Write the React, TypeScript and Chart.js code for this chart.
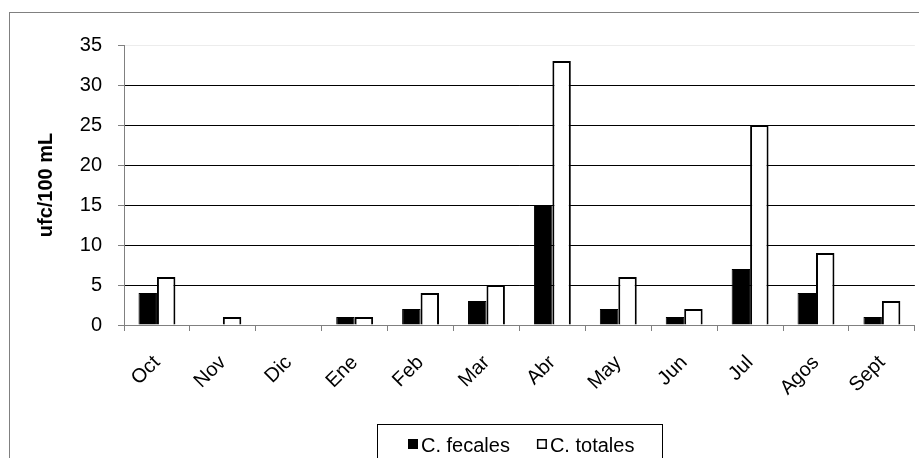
import { useEffect, useRef } from 'react';
import { Chart, registerables } from 'chart.js';

Chart.register(...registerables);

const categories = ['Oct', 'Nov', 'Dic', 'Ene', 'Feb', 'Mar', 'Abr', 'May', 'Jun', 'Jul', 'Agos', 'Sept'];
const fecales = [4, 0, 0, 1, 2, 3, 15, 2, 1, 7, 4, 1];
const totales = [6, 1, 0, 1, 4, 5, 33, 6, 2, 25, 9, 3];
const yTicks = [0, 5, 10, 15, 20, 25, 30, 35];
const seriesNames = ['C. fecales', 'C. totales'];
const yTitle = 'ufc/100 mL';

const FONT = '"Liberation Sans", Arial, sans-serif';

const framePlugin = {
  id: 'frame',
  afterDraw(chart: any) {
    const { ctx } = chart;
    ctx.save();
    // outer chart border
    ctx.strokeStyle = '#808080';
    ctx.lineWidth = 1;
    ctx.strokeRect(9.5, 12.5, 1100, 600);
    // legend box
    ctx.strokeStyle = '#000';
    ctx.strokeRect(377.5, 424.5, 285, 60);
    ctx.font = `20px ${FONT}`;
    ctx.textBaseline = 'alphabetic';
    ctx.textAlign = 'left';
    let x = 408;
    const baseline = 452;
    chart.data.datasets.forEach((ds: any) => {
      ctx.fillStyle = ds.backgroundColor;
      ctx.fillRect(x, 439, 10, 10);
      ctx.strokeStyle = '#000';
      ctx.lineWidth = 1.5;
      ctx.strokeRect(x + 0.75, 439.75, 8.5, 8.5);
      ctx.fillStyle = '#000';
      ctx.fillText(ds.label, x + 13, baseline);
      x += 13 + ctx.measureText(ds.label).width + 27;
    });
    ctx.restore();
  },
};

export default function App() {
  const ref = useRef<HTMLCanvasElement>(null);

  useEffect(() => {
    if (!ref.current) return;
    const chart = new Chart(ref.current, {
      type: 'bar',
      data: {
        labels: categories,
        datasets: [
          {
            label: seriesNames[0],
            data: fecales,
            backgroundColor: '#000000',
            borderColor: '#000000',
            borderWidth: 1,
            categoryPercentage: 0.56,
            barPercentage: 1,
          },
          {
            label: seriesNames[1],
            data: totales,
            backgroundColor: '#ffffff',
            borderColor: '#000000',
            borderWidth: 2,
            categoryPercentage: 0.56,
            barPercentage: 1,
          },
        ],
      },
      options: {
        animation: false,
        responsive: true,
        maintainAspectRatio: false,
        layout: { padding: { left: 0, top: 45, right: 3, bottom: 0 } },
        plugins: {
          legend: { display: false },
          tooltip: { enabled: false },
        },
        scales: {
          x: {
            offset: true,
            grid: {
              display: true,
              drawOnChartArea: false,
              drawTicks: true,
              tickLength: 6,
              tickColor: '#808080',
              offset: true,
            },
            border: { color: '#808080', width: 1 },
            ticks: {
              autoSkip: false,
              maxRotation: 45,
              minRotation: 45,
              padding: 20,
              color: '#000',
              font: { size: 20, family: FONT },
            },
            afterFit: (s: any) => {
              s.height = 133;
            },
          },
          y: {
            min: 0,
            max: 35,
            afterBuildTicks: (s: any) => {
              s.ticks = yTicks.map((v) => ({ value: v }));
            },
            ticks: {
              padding: 16,
              color: '#000',
              font: { size: 20, family: FONT },
            },
            grid: {
              color: (c: any) =>
                c.tick && c.tick.value === 35 ? '#ececec' : c.tick && c.tick.value === 0 ? '#808080' : '#000000',
              tickColor: '#808080',
              tickLength: 6,
              lineWidth: 1,
            },
            border: { color: '#808080', width: 1 },
            title: {
              display: true,
              text: yTitle,
              color: '#000',
              font: { size: 20, weight: 'bold', family: FONT },
              padding: { top: 34, bottom: 0 },
            },
            afterFit: (s: any) => {
              s.width = 124;
            },
          },
        },
      },
      plugins: [framePlugin],
    });
    return () => chart.destroy();
  }, []);

  return (
    <div style={{ position: 'fixed', left: 0, top: 0, width: 919, height: 458, overflow: 'hidden', background: '#fff' }}>
      <canvas ref={ref} />
    </div>
  );
}
